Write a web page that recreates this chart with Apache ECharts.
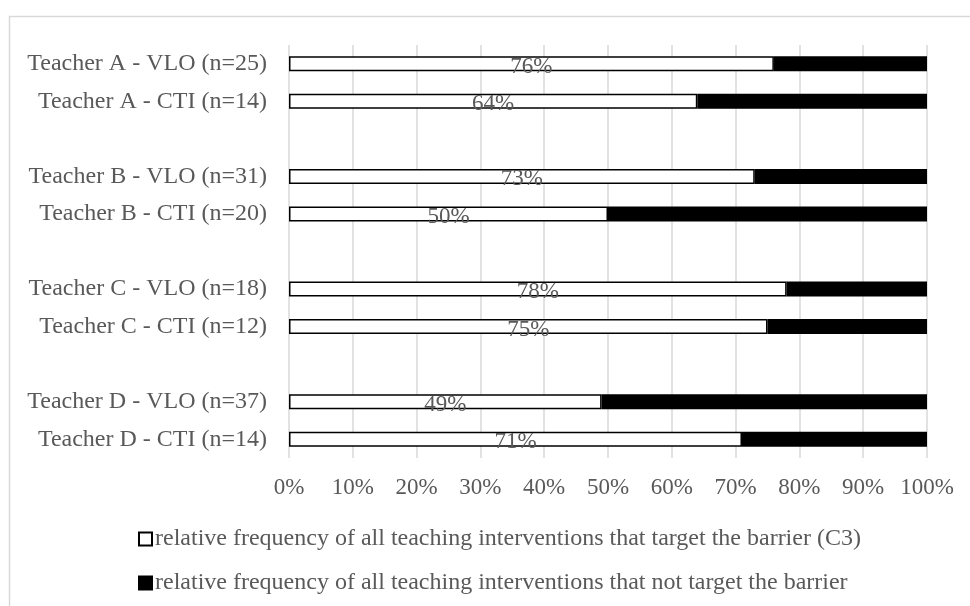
<!DOCTYPE html>
<html>
<head>
<meta charset="utf-8">
<script src="https://cdn.jsdelivr.net/npm/echarts@6/dist/echarts.min.js"></script>
<style>html,body{margin:0;padding:0;background:#fff;}#c{width:970px;height:606px;}</style>
</head>
<body>
<div id="c"></div>
<script>
var categories = [
  'Teacher A - VLO (n=25)', 'Teacher A - CTI (n=14)', ' ',
  'Teacher B - VLO (n=31)', 'Teacher B - CTI (n=20)', '  ',
  'Teacher C - VLO (n=18)', 'Teacher C - CTI (n=12)', '   ',
  'Teacher D - VLO (n=37)', 'Teacher D - CTI (n=14)'
];
var targetValues = [76, 64, null, 73, 50, null, 78, 75, null, 49, 71];
var notTargetValues = [24, 36, null, 27, 50, null, 22, 25, null, 51, 29];
var seriesNames = [
  'relative frequency of all teaching interventions that target the barrier (C3)',
  'relative frequency of all teaching interventions that not target the barrier'
];

var font = 'Liberation Serif';
var textColor = '#595959';
var chart = echarts.init(document.getElementById('c'));
chart.setOption({
  animation: false,
  backgroundColor: '#fff',
  graphic: [{
    type: 'rect', left: 7, top: 14, z: -1,
    shape: { width: 1000, height: 700 },
    style: { fill: 'none', stroke: '#d9d9d9', lineWidth: 1.5 }
  }],
  grid: { left: 289, right: 43, top: 45, bottom: 148, containLabel: false },
  xAxis: {
    type: 'value', min: 0, max: 100, interval: 10,
    axisLine: { show: false }, axisTick: { show: false },
    splitLine: { show: true, lineStyle: { color: '#d9d9d9', width: 1.5 } },
    axisLabel: { formatter: '{value}%', color: textColor, fontFamily: font, fontSize: 23, margin: 18 }
  },
  yAxis: {
    type: 'category', inverse: true, data: categories,
    axisLine: { show: false }, axisTick: { show: false },
    axisLabel: { color: textColor, fontFamily: font, fontSize: 24, margin: 22 }
  },
  legend: {
    orient: 'vertical', left: 138, top: 527, itemGap: 20, padding: 0,
    itemWidth: 13, itemHeight: 13, selectedMode: false,
    textStyle: { color: textColor, fontFamily: font, fontSize: 24, lineHeight: 24, padding: [0, 0, 0, -2] },
    data: [
      { name: seriesNames[0], icon: 'rect', itemStyle: { color: '#fff', borderColor: '#000', borderWidth: 2 } },
      { name: seriesNames[1], icon: 'rect', itemStyle: { color: '#000', borderColor: '#000', borderWidth: 2 } }
    ]
  },
  series: [
    {
      name: seriesNames[0], type: 'bar', stack: 'total', barWidth: 15,
      data: targetValues,
      itemStyle: { color: '#fff', borderColor: '#000', borderWidth: 1.5 },
      label: { show: true, position: 'inside', formatter: '{c}%', color: textColor, fontFamily: font, fontSize: 23, offset: [0, 3] }
    },
    {
      name: seriesNames[1], type: 'bar', stack: 'total', barWidth: 15,
      data: notTargetValues,
      itemStyle: { color: '#000', borderColor: '#000', borderWidth: 1.5 }
    }
  ]
});
</script>
</body>
</html>
